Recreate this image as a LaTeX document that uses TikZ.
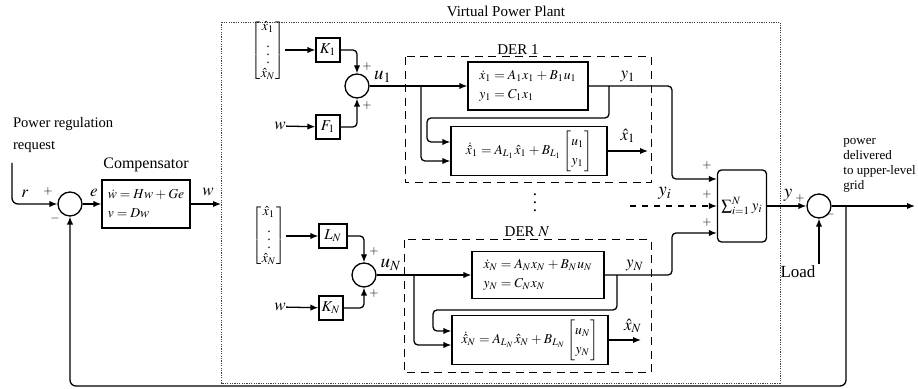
\documentclass[tikz,border=0pt]{standalone}
\usepackage{amsmath}
\usepackage{mathptmx}
\usepackage[no-math]{fontspec}
\setmainfont{Liberation Serif}
\usetikzlibrary{arrows.meta,positioning,calc}

\tikzset{
  blk/.style={draw, line width=0.65pt, inner sep=2pt},
  eqbox/.style={blk, align=left, inner xsep=2.5pt, font=\rmfamily\fontsize{6.8}{9.5}\selectfont,
    execute at begin node={\thickmuskip=4mu\medmuskip=3mu}},
  gain/.style={blk, minimum width=12pt, minimum height=12pt, inner sep=1pt},
  sumc/.style={draw, line width=0.65pt, circle, minimum size=12pt, inner sep=0pt},
  sig/.style={line width=0.65pt, -{Latex[length=4pt,width=3.2pt]}},
  derbox/.style={draw, line width=0.5pt, dash pattern=on 4pt off 2.8pt},
  vecnode/.style={inner sep=0pt, font=\fontsize{6.8}{8}\selectfont},
  pm/.style={inner sep=0pt, font=\fontsize{6}{6}\selectfont},
  sgl/.style={inner sep=0pt, font=\fontsize{8.5}{9}\selectfont},
  big/.style={inner sep=0pt, font=\fontsize{9.5}{10}\selectfont},
}
\newcommand{\xhatvec}{$\renewcommand{\arraystretch}{0.85}\begin{bmatrix}\hat x_1\\ \vdots\\ \hat x_N\end{bmatrix}$}

\begin{document}
\begin{tikzpicture}[x=0.5pt, y=-0.5pt, font=\rmfamily\fontsize{7.5}{9.5}\selectfont]
\useasboundingbox (0,0) rectangle (918,389);
% frame of the virtual power plant
\draw[line width=0.4pt, dash pattern=on 0.6pt off 0.6pt, black!75] (221,22) rectangle (780,383);
\node (vpp) at (506,11) {Virtual Power Plant};

% compensator loop
\node[sumc] (s0) at (70,204) {};
\node[eqbox, minimum width=44pt, minimum height=24pt] (comp) at (146,204) {$\dot w = Hw + Ge$\\$v = Dw$};
\node[above=0pt of comp, font=\rmfamily\fontsize{8}{9}\selectfont] (comptitle) {Compensator};
\node[anchor=south west, align=left, font=\rmfamily\fontsize{7.3}{11}\selectfont] (req) at (6,160) {Power regulation\\request};
\coordinate (rin) at (12,163);
\coordinate (wout) at (221,204);
\draw[sig, rounded corners=3pt] (rin) |- (s0.west);
\draw[sig] (s0) -- (comp);
\draw[sig] (comp) -- (wout);
\node[sgl] (rlbl) at (25,194) {$r$};
\node[pm] (rp) at (48,192) {$+$};
\node[pm] (rm) at (55,219) {$-$};
\node[sgl] (elbl) at (94,193) {$e$};
\node[sgl] (wlbl) at (208,192) {$w$};

% DER 1 side
\node[vecnode] (mx1) at (268,51) {\xhatvec};
\node[gain] (k1) at (328,50) {$K_1$};
\node[gain] (f1) at (328,127) {$F_1$};
\node[sumc] (c1) at (357,86) {};
\node[sgl] (w1) at (280,126) {$w$};
\draw[sig] (mx1.east |- k1) -- (k1);
\draw[sig, rounded corners=2pt] (k1) -| (c1);
\draw[sig] (w1) -- (f1);
\draw[sig, rounded corners=2pt] (f1) -| (c1);
\node[pm] (c1p1) at (367,67) {$+$};
\node[pm] (c1p2) at (367,106) {$+$};
\node[big] (u1) at (383,77) {$u_1$};

\draw[derbox] (405,57) rectangle (651,183);
\node (der1) at (518,50) {DER 1};
\node[eqbox, minimum width=60pt, minimum height=24pt] (p1) at (528,86)
  {$\dot x_1 = A_1x_1 + B_1u_1$\\$y_1 = C_1x_1$};
\node[eqbox, minimum width=78pt, minimum height=24.5pt] (o1) at (529,151)
  {$\dot{\hat x}_1 = A_{L_1}\hat x_1 + B_{L_1}\begin{bmatrix}u_1\\ y_1\end{bmatrix}$};
\coordinate (br1) at (421,86);
\coordinate (ty1) at (609,86);
\coordinate (kn1) at (672,86);
\coordinate (xe1) at (648,151);
\draw[sig] (c1) -- (p1);
\draw[sig, rounded corners=2pt] (br1) |- ([yshift=-5pt]o1.west);
\draw[sig, rounded corners=2pt] (ty1) |- (427,118) |- ([yshift=4.5pt]o1.west);
\draw[sig] (o1) -- (xe1);
\node[sgl] (y1) at (628,77) {$y_1$};
\node[sgl] (xh1) at (628,136) {$\hat x_1$};

% DER N side
\node[vecnode] (mxN) at (269,236) {\xhatvec};
\node[gain, minimum width=14pt] (lN) at (333,236) {$L_N$};
\node[gain] (kN) at (331,308) {$K_N$};
\node[sumc] (cN) at (364,275) {};
\node[sgl] (wN) at (280,307) {$w$};
\draw[sig] (mxN) -- (lN);
\draw[sig, rounded corners=2pt] (lN) -| (cN);
\draw[sig] (wN) -- (kN);
\draw[sig, rounded corners=2pt] (kN) -| (cN);
\node[pm] (cNp1) at (374,252) {$+$};
\node[pm] (cNp2) at (374,294) {$+$};
\node[big] (uN) at (391,265) {$u_N$};

\draw[derbox] (404,240) rectangle (651,373);
\node (derN) at (527,232) {DER $N$};
\node[eqbox, minimum width=66pt, minimum height=23.5pt] (pN) at (538,275)
  {$\dot x_N = A_Nx_N + B_Nu_N$\\$y_N = C_Nx_N$};
\node[eqbox, minimum width=78pt, minimum height=23.5pt] (oN) at (530,340)
  {$\dot{\hat x}_N = A_{L_N}\hat x_N + B_{L_N}\begin{bmatrix}u_N\\ y_N\end{bmatrix}$};
\coordinate (brN) at (414,275);
\coordinate (tyN) at (617,275);
\coordinate (knN) at (672,275);
\coordinate (xeN) at (641,340);
\draw[sig] (cN) -- (pN);
\draw[sig, rounded corners=2pt] (brN) |- ([yshift=-2.5pt]oN.west);
\draw[sig, rounded corners=2pt] (tyN) |- (433,310) |- ([yshift=4.5pt]oN.west);
\draw[sig] (oN) -- (xeN);
\node[sgl] (yN) at (635,266) {$y_N$};
\node[sgl] (xhN) at (633,326) {$\hat x_N$};
\node[sgl] (vd) at (535,197) {$\vdots$};

% summation of the outputs
\node[draw, line width=0.65pt, rounded corners=2pt, minimum width=24.5pt, minimum height=36pt, inner sep=0pt,
  font=\fontsize{7.5}{9}\selectfont] (sumb) at (742,206) {$\sum_{i=1}^{N} y_i$};
\coordinate (yi) at (630,206);
\draw[sig, rounded corners=2pt] (p1) -- (kn1) |- ([yshift=13.5pt]sumb.west);
\draw[sig, rounded corners=2pt] (pN) -- (knN) |- ([yshift=-13.5pt]sumb.west);
\draw[sig, dashed] (yi) -- (sumb.west);
\node[big] (yil) at (665,193) {$y_i$};
\foreach \yy [count=\k] in {166,195,223} {
  \node[pm] (sp\k) at (707,\yy) {$+$};
}

% grid connection
\node[sumc] (cout) at (819,206) {};
\node[font=\rmfamily\fontsize{8.5}{9}\selectfont] (load) at (798,272) {Load};
\coordinate (ldin) at (819,264);
\coordinate (fb) at (846,206);
\coordinate (fbb) at (846,386);
\coordinate (outend) at (915,206);
\draw[sig] (sumb) -- (cout);
\draw[sig] (ldin) -- (cout);
\draw[sig] (cout) -- (outend);
\draw[sig, rounded corners=3pt] (fb) -- (fbb) -| (s0.south);
\node[big] (yout) at (788,195) {$y$};
\node[pm] (yop) at (800,199) {$+$};
\node[pm] (yom) at (830,215) {$-$};
\node[anchor=north west, align=left, inner sep=0pt, font=\rmfamily\fontsize{6.5}{7.5}\selectfont] (grid) at (843,138)
  {power\\delivered\\to upper-level\\grid};
\end{tikzpicture}
\end{document}
